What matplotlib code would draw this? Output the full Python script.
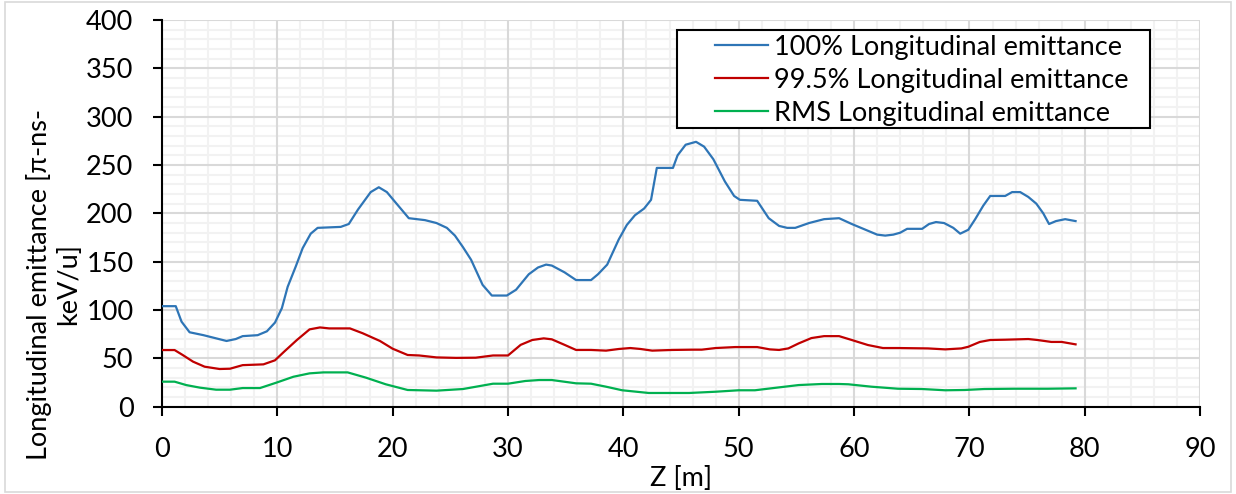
import numpy as np
import matplotlib
matplotlib.use("Agg")
import matplotlib.pyplot as plt
from matplotlib.patches import Rectangle
from matplotlib.ticker import MultipleLocator

plt.rcParams['font.family'] = ['Lato', 'DejaVu Sans']

# 100% emittance along the line
z_full = [0, 1.2, 1.7, 2.4, 3.6, 4.6, 5.6, 6.4, 7.0, 8.3, 9.1, 9.8, 10.4, 10.9, 11.6,
          12.2, 12.9, 13.5, 15.5, 16.2, 17.0, 18.1, 18.8, 19.5, 20.2, 21.4, 22.8, 23.8,
          24.7, 25.4, 26.1, 26.8, 27.8, 28.6, 29.9, 30.7, 31.8, 32.6, 33.3, 33.8, 34.9,
          35.9, 37.2, 37.8, 38.6, 39.6, 40.3, 41.0, 41.8, 42.4, 42.9, 44.3, 44.7, 45.4,
          46.3, 47.0, 47.8, 48.8, 49.6, 50.1, 51.6, 52.6, 53.5, 54.2, 54.9, 56.1, 57.4,
          58.7, 59.8, 61.0, 62.0, 62.7, 63.4, 64.0, 64.6, 65.9, 66.5, 67.1, 67.8, 68.6,
          69.2, 69.9, 70.5, 71.2, 71.8, 73.1, 73.7, 74.4, 75.1, 75.8, 76.4, 76.9, 77.5,
          78.3, 79.2]
emit_full = [104, 104, 88, 77, 74, 71, 68, 70, 73, 74, 78, 87, 102, 124, 145,
             164, 179, 185, 186, 189, 204, 222, 227, 222, 212, 195, 193, 190,
             185, 177, 165, 152, 126, 115, 115, 121, 137, 144, 147, 146, 139,
             131, 131, 137, 147, 173, 188, 198, 205, 214, 247, 247, 260, 271,
             274, 269, 256, 233, 218, 214, 213, 195, 187, 185, 185, 190, 194,
             195, 189, 183, 178, 177, 178, 180, 184, 184, 189, 191, 190, 185,
             179, 183, 194, 208, 218, 218, 222, 222, 217, 210, 200, 189, 192,
             194, 192]

# 99.5% emittance
z_995 = [0, 1.1, 1.8, 2.7, 3.7, 5.0, 5.9, 7.0, 8.8, 9.8, 10.6, 11.7, 12.8, 13.7, 14.5,
         16.3, 17.4, 18.9, 20.0, 21.3, 22.3, 23.8, 25.5, 27.2, 28.7, 30.0, 31.1, 32.1,
         33.1, 33.8, 34.9, 35.9, 37.2, 38.5, 39.6, 40.6, 41.5, 42.5, 44.2, 46.0, 46.8,
         48.0, 49.7, 51.6, 52.7, 53.5, 54.3, 55.2, 56.3, 57.4, 58.7, 59.8, 61.2, 62.5,
         63.8, 66.4, 67.9, 69.3, 69.9, 70.9, 71.8, 73.1, 75.1, 75.9, 77.1, 78.0, 79.2]
emit_995 = [58.6, 58.6, 53.5, 46.6, 41.4, 39, 39.3, 43, 43.8, 48, 57, 69, 80, 82, 81,
            81, 76, 68, 60, 53.5, 53, 51, 50.5, 50.7, 53, 53, 64, 69,
            70.7, 69.7, 64, 58.7, 58.7, 58, 59.7, 60.7, 59.7, 58, 58.7, 59, 59,
            60.7, 61.7, 61.7, 59.3, 58.7, 60.3, 65.5, 71, 73, 73, 69, 63.8, 60.7,
            60.7, 60.3, 59.3, 60.3, 62, 67, 69, 69.3, 70, 69, 67, 67, 64.5]

# RMS emittance
z_rms = [0, 1.1, 2.1, 3.3, 4.7, 5.9, 7.0, 8.5, 9.9, 11.4, 12.8, 14.0, 16.1, 17.7, 19.4,
         21.3, 23.8, 26.1, 28.7, 30.0, 31.5, 32.7, 33.8, 35.9, 37.2, 38.5, 39.9, 42.2,
         45.7, 48.0, 50.0, 51.4, 53.5, 55.2, 57.2, 58.7, 59.5, 61.5, 63.8, 65.9, 67.9,
         69.6, 71.3, 73.9, 76.8, 79.2]
emit_rms = [25.9, 25.9, 22.4, 19.7, 17.6, 17.6, 19.3, 19.3, 24.8, 31, 34.5, 35.5, 35.5, 30, 23.2,
            17.3, 16.6, 18.3, 23.8, 23.8, 26.6, 27.6, 27.6, 24.2, 23.8, 20.7, 17, 14.2,
            14.2, 15.5, 17, 17, 20, 22.4, 23.5, 23.5, 23.2, 20.7, 18.6, 18.3, 17,
            17.3, 18.3, 18.6, 18.6, 19]

labels = ["100% Longitudinal emittance", "99.5% Longitudinal emittance",
          "RMS Longitudinal emittance"]
colors = ["#2E75B6", "#C00000", "#00B050"]

FS = 19.5
xmax, ymax = 90, 400

fig = plt.figure(figsize=(12.36, 4.94), dpi=100)
ax = fig.add_axes([0.131, 0.1767, 0.84, 0.7828])

ax.plot(z_full, emit_full, color=colors[0], lw=1.6, label=labels[0], zorder=3)
ax.plot(z_995, emit_995, color=colors[1], lw=1.6, label=labels[1], zorder=3)
ax.plot(z_rms, emit_rms, color=colors[2], lw=1.6, label=labels[2], zorder=3)

ax.set_xlim(0, xmax)
ax.set_ylim(0, ymax)
ax.xaxis.set_major_locator(MultipleLocator(10))
ax.yaxis.set_major_locator(MultipleLocator(50))

# light minor grid first, then the darker major grid on top of it
xm = [v for v in np.arange(2, xmax, 2) if v % 10]
ym = [v for v in np.arange(10, ymax, 10) if v % 50]
ax.vlines(xm, 0, ymax, color='#f2f2f2', lw=1.5, zorder=0.2)
ax.hlines(ym, 0, xmax, color='#f2f2f2', lw=1.5, zorder=0.2)
ax.grid(which='major', color='#d9d9d9', lw=1.5)
ax.set_axisbelow(True)

for side in ('top', 'right'):
    ax.spines[side].set_visible(False)
for side in ('left', 'bottom'):
    ax.spines[side].set_linewidth(1.5)
    ax.spines[side].set_color('black')

ax.tick_params(which='major', length=6.5, width=1.5, color='black', labelsize=FS)
ax.tick_params(axis='x', pad=15)
ax.tick_params(axis='y', pad=14)

ax.set_xlabel("Z [m]", fontsize=FS, labelpad=3)
fig.text(0.043, 0.425, "Longitudinal emittance [\u03c0-ns-\nkeV/u]", rotation=90,
         ha='center', va='center', multialignment='center', fontsize=FS)

# legend box drawn separately so it can have wide side margins
ax.add_patch(Rectangle((0.496, 0.7207), 0.456, 0.2533, transform=ax.transAxes,
                       facecolor='white', edgecolor='black', lw=1.5, zorder=4))
leg = ax.legend(loc='upper left', bbox_to_anchor=(0.533, 0.962), fontsize=FS,
                frameon=False, handlelength=1.96, handletextpad=0.2,
                labelspacing=0.3, borderpad=0, borderaxespad=0)
leg.set_zorder(5)

fig.patches.append(Rectangle((0.004, 0.004), 0.992, 0.992, transform=fig.transFigure,
                             fill=False, edgecolor='#d9d9d9', lw=1.2))

fig.savefig("out.png", dpi=100)
